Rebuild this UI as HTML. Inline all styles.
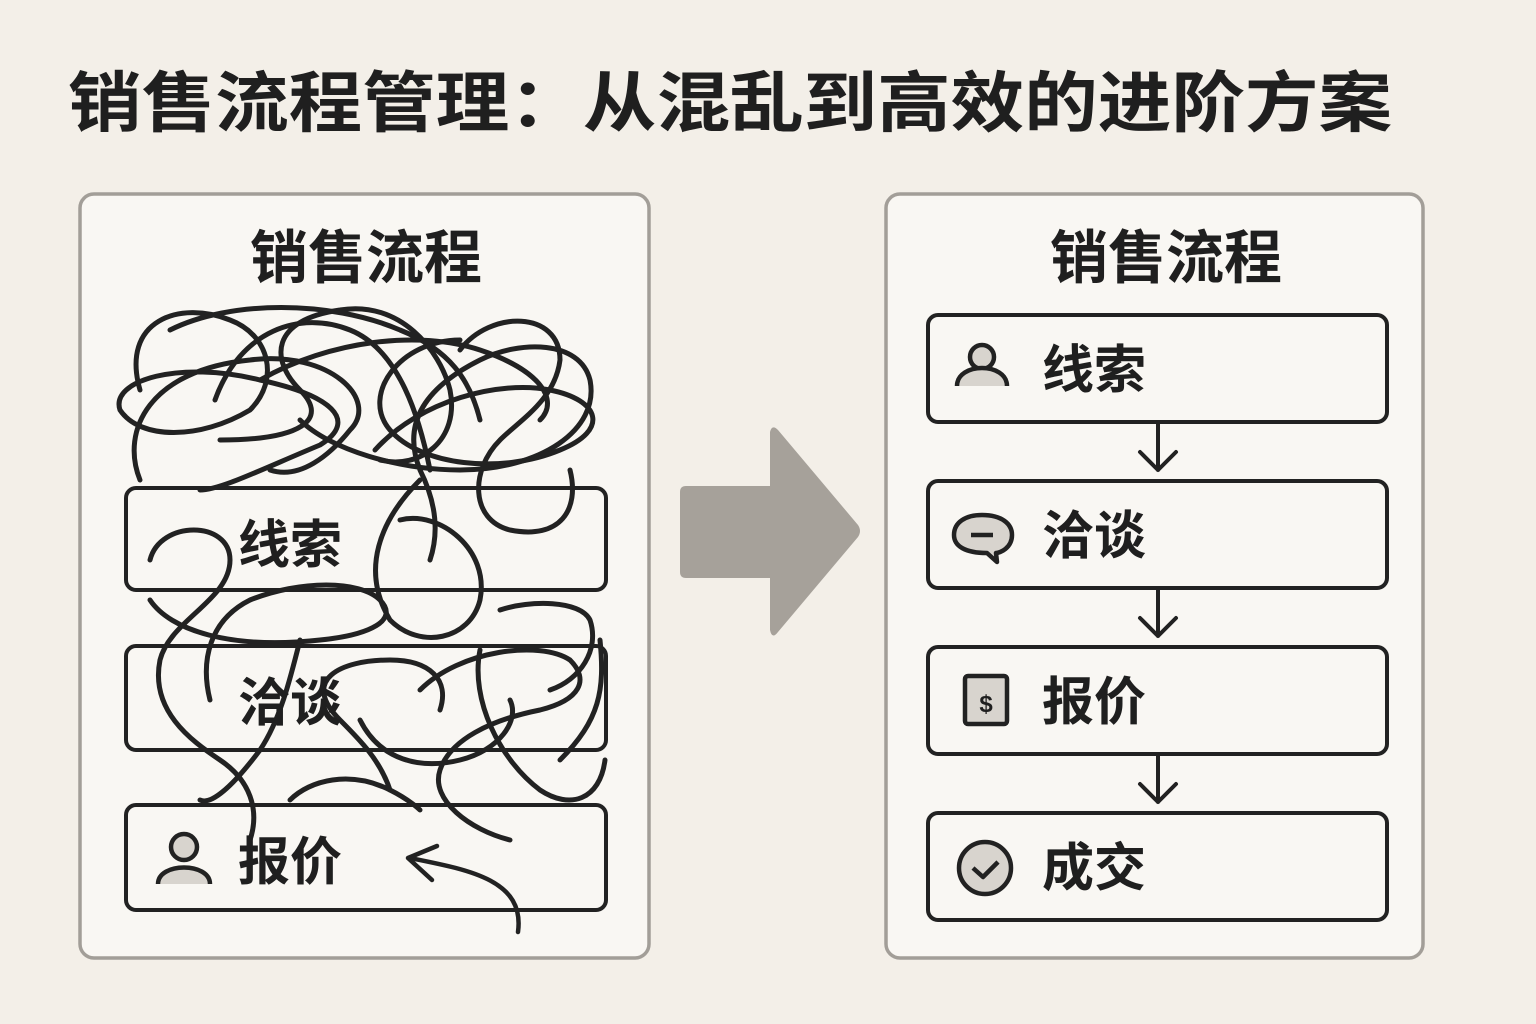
<!DOCTYPE html>
<html><head><meta charset="utf-8"><style>
html,body{margin:0;padding:0;background:#f3efe8;}
svg{display:block}
text{font-family:"Liberation Sans","Noto Sans CJK SC",sans-serif;font-weight:bold;fill:#1f1f1f}
</style></head><body>
<svg width="1536" height="1024" viewBox="0 0 1536 1024" xmlns="http://www.w3.org/2000/svg">
<rect width="1536" height="1024" fill="#f3efe8"/>
<text x="68" y="126" font-size="66" textLength="1324" lengthAdjust="spacingAndGlyphs">销售流程管理：从混乱到高效的进阶方案</text>

<rect x="80" y="194" width="569" height="764" rx="14" fill="#f9f7f3" stroke="#a29e98" stroke-width="3.5"/>
<rect x="886" y="194" width="537" height="764" rx="14" fill="#f9f7f3" stroke="#a29e98" stroke-width="3.5"/>
<text x="366" y="278" font-size="58" text-anchor="middle">销售流程</text>
<text x="1166" y="278" font-size="58" text-anchor="middle">销售流程</text>

<g fill="#f9f7f3" stroke="#222" stroke-width="4">
<rect x="126" y="488" width="480" height="102" rx="10"/>
<rect x="126" y="646" width="480" height="104" rx="10"/>
<rect x="126" y="805" width="480" height="105" rx="10"/>
</g>

<g fill="none" stroke="#222" stroke-width="5" stroke-linecap="round">
<path d="M140 390 C120 320 180 300 230 320 C270 335 280 380 250 410 C200 440 140 440 120 410 C110 380 180 360 260 380 C330 395 360 420 320 445 C260 470 220 490 200 490"/>
<path d="M140 480 C120 430 150 370 250 360 C330 350 380 400 350 430 C330 455 300 480 270 470"/>
<path d="M215 400 C240 330 300 310 350 330 C400 350 420 420 430 470"/>
<path d="M220 440 C300 440 330 420 300 390 C270 360 270 320 340 310 C400 300 440 350 450 390 C460 440 420 470 380 460"/>
<path d="M300 420 C330 450 400 470 460 470 C540 470 600 430 590 380 C580 340 520 340 480 360 C430 385 400 420 420 470 C435 500 440 530 430 560"/>
<path d="M375 450 C420 400 500 380 550 390 C600 400 610 430 560 450 C500 475 420 465 390 430 C360 395 400 340 460 340"/>
<path d="M460 350 C490 310 560 310 560 360 C555 400 520 420 500 440 C470 470 470 520 510 530 C560 540 580 510 570 470"/>
<path d="M170 330 C230 300 330 300 400 330 C450 350 470 380 480 420"/>
<path d="M260 380 C330 340 420 330 480 350 C540 370 560 400 540 420"/>
<path d="M420 480 C380 520 360 570 390 620 C420 650 470 640 480 600 C490 550 440 510 400 520"/>
<path d="M150 560 C160 520 230 520 230 560 C230 600 170 620 160 660 C150 710 190 740 220 760 C250 780 260 810 250 840"/>
<path d="M150 600 C170 630 230 650 320 640 C370 635 400 620 380 600 C360 580 300 580 250 600 C210 620 200 660 210 700"/>
<path d="M300 640 C290 680 280 720 260 750 C230 790 210 805 200 800"/>
<path d="M290 800 C310 780 350 770 390 790 C410 800 420 810 420 810"/>
<path d="M390 790 C380 760 360 740 340 720 C300 680 340 660 390 660 C430 660 450 680 440 710"/>
<path d="M420 690 C460 650 540 640 570 660 C590 680 580 700 540 710 C490 720 450 740 440 770 C430 800 470 830 510 840"/>
<path d="M480 650 C470 700 500 760 540 790 C570 810 600 800 605 760"/>
<path d="M500 610 C530 600 580 600 590 620 C600 650 580 680 550 690"/>
<path d="M360 720 C380 760 420 770 460 760 C500 750 520 720 510 700"/>
<path d="M560 760 C600 720 605 690 600 640"/>
</g>
<text x="238" y="563" font-size="52">线索</text>
<text x="238" y="721" font-size="52">洽谈</text>
<text x="238" y="880" font-size="52">报价</text>
<g stroke="#222" stroke-width="4.5">
<circle cx="184" cy="847" r="13" fill="#d8d4ce"/>
<path d="M158 884 C158 862 210 862 210 884" fill="#d8d4ce"/>
</g>
<g fill="none" stroke="#222" stroke-width="4.5" stroke-linecap="round" stroke-linejoin="round">
<path d="M518 932 C525 880 470 870 410 858"/>
<path d="M437 846 L408 858 L432 880"/>
</g>

<path d="M686 486 L770 486 L770 432 Q772 424 778 430 L858 525 Q862 531 858 537 L778 632 Q772 640 770 630 L770 578 L686 578 Q680 578 680 572 L680 492 Q680 486 686 486 Z" fill="#a6a19a"/>

<g fill="#f9f7f3" stroke="#222" stroke-width="4">
<rect x="928" y="315" width="459" height="107" rx="10"/>
<rect x="928" y="481" width="459" height="107" rx="10"/>
<rect x="928" y="647" width="459" height="107" rx="10"/>
<rect x="928" y="813" width="459" height="107" rx="10"/>
</g>
<g fill="none" stroke="#222" stroke-width="4" stroke-linecap="round" stroke-linejoin="round">
<path d="M1158 424 V470 M1140 452 L1158 470 L1176 452"/>
<path d="M1158 590 V636 M1140 618 L1158 636 L1176 618"/>
<path d="M1158 756 V802 M1140 784 L1158 802 L1176 784"/>
</g>
<text x="1042" y="388" font-size="52">线索</text>
<text x="1042" y="554" font-size="52">洽谈</text>
<text x="1042" y="720" font-size="52">报价</text>
<text x="1042" y="886" font-size="52">成交</text>
<g stroke="#222" stroke-width="4.5" fill="#d8d4ce" stroke-linejoin="round">
<circle cx="982" cy="357" r="12"/>
<path d="M957 386 C957 362 1007 362 1007 386"/>
<path d="M982 515 C1002 515 1012 524 1012 535 C1012 548 1000 553 996 553 L997 562 L987 553 C965 553 954 546 954 535 C954 522 966 515 982 515 Z"/>
<path d="M971 535 H993" fill="none"/>
<rect x="965" y="676" width="42" height="48" rx="3"/>
<circle cx="985" cy="868" r="26"/>
<path d="M973 868 L983 877 L998 862" fill="none"/>
</g>
<text x="986" y="712" font-size="24" text-anchor="middle">$</text>
</svg>
</body></html>
